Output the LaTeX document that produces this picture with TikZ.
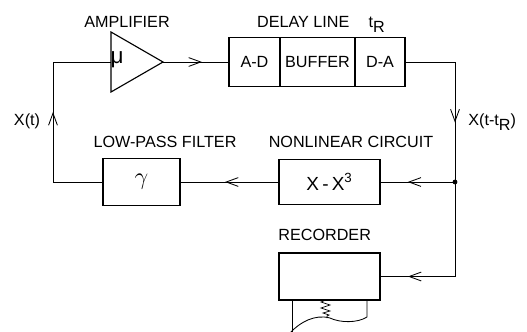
\documentclass[tikz,border=0pt]{standalone}
\usepackage{fontspec}
\setmainfont{Liberation Sans}
\usepackage{tikz}
\usetikzlibrary{positioning}
\usetikzlibrary{arrows.meta,shapes.geometric,decorations.markings}

\begin{document}
\begin{tikzpicture}[x=0.025cm,y=-0.025cm,line width=0.6pt,
    font=\fontsize{11.5}{13}\selectfont,
    block/.style={draw,line width=0.8pt,inner sep=0pt,outer sep=0pt},
    greek/.style={font=\fontsize{16}{18}\selectfont},
    midarrow/.style={postaction={decorate},decoration={markings,
      mark=at position #1 with {\arrow{Straight Barb[length=3mm,width=2.2mm]}}}}]
  \useasboundingbox (0,0) rectangle (527,331);
  % blocks
  \node (amp) [draw,line width=0.8pt,isosceles triangle,isosceles triangle stretches,
    minimum width=1.5cm,minimum height=1.3cm,inner sep=0pt,outer sep=0pt,anchor=apex] at (163,62) {};
  \node (mu) [greek] at (117,60) {μ};
  \node (ad) [block,minimum width=1.275cm,minimum height=1.225cm] at (254.5,62) {A-D};
  \node (buf) [block,minimum width=1.875cm,minimum height=1.225cm,right=0pt of ad] {BUFFER};
  \node (da) [block,minimum width=1.25cm,minimum height=1.225cm,right=0pt of buf] {D-A};
  \node (nl) [block,font=\fontsize{13.5}{15}\selectfont,minimum width=2.525cm,minimum height=1.125cm]
    at (329.5,182) {X\,-\,X\textsuperscript{3}};
  \node (lp) [block,greek,minimum width=1.925cm,minimum height=1.175cm] at (141.5,182) {$\gamma$};
  \node (rec) [block,minimum width=2.525cm,minimum height=1.175cm] at (329.5,276.5) {};
  \node (jn) [circle,fill,inner sep=1.2pt] at (455,182) {};
  % labels
  \node (amplbl) [anchor=base] at (127,27) {AMPLIFIER};
  \node (dllbl) [anchor=base] at (321,27) {DELAY LINE\hspace{1.2em}t\raisebox{-0.6ex}{R}};
  \node (lplbl) [anchor=base] at (165,147) {LOW-PASS FILTER};
  \node (nllbl) [anchor=base] at (351,147) {NONLINEAR CIRCUIT};
  \node (reclbl) [anchor=base west,inner sep=0pt] at (278,240) {RECORDER};
  \node (xt) [anchor=base] at (27,125) {X(t)};
  \node (xtr) [anchor=base west,inner sep=0pt] at (468,125) {X(t-t\raisebox{-0.6ex}{R})};
  % connectors
  \draw[midarrow=0.59] (amp.apex) -- (ad.west);
  \draw[midarrow=0.65] (da.east) -| (jn.center);
  \draw[midarrow=0.63] (jn.center) -- (nl.east);
  \draw[midarrow=0.835] (jn.center) |- (rec.east);
  \draw[midarrow=0.545] (nl.west) -- (lp.east);
  \draw[midarrow=3.0cm] (lp.west) -- ++(-50,0) |- (amp.lower side);
  % chart paper
  \draw (292,300) -- (292,335);
  \draw (367,300) -- (367,317) .. controls (358,323) and (340,323) .. (330,318)
    .. controls (315,314) and (300,322) .. (290,333);
  \draw[line width=0.5pt] (326,300) -- (321,302) -- (330,305) -- (321,308) -- (330,311)
    -- (323,313) -- (329,315) -- (327,316) -- (327,318);
\end{tikzpicture}
\end{document}
